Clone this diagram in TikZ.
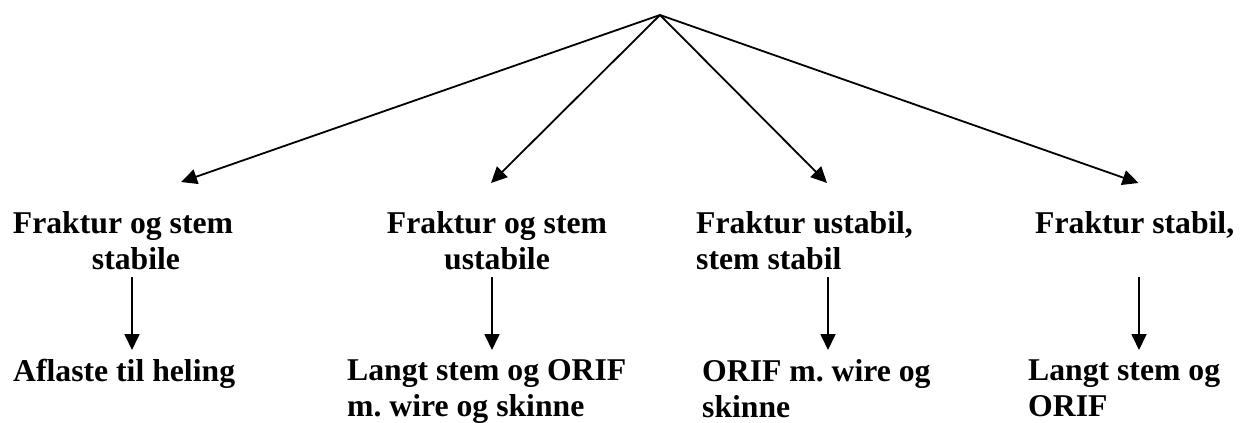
\documentclass[tikz,border=0pt]{standalone}
\usepackage{fontspec}
\setmainfont{Liberation Serif}
\usetikzlibrary{arrows.meta}
\frenchspacing
\begin{document}
\begin{tikzpicture}[x=1pt,y=-1pt,
  arr/.style={line width=1.8pt,-{Triangle[length=16pt,width=15pt]}},
  lbl/.style={inner sep=0pt,font=\fontsize{31.7}{36}\selectfont\bfseries}]
\useasboundingbox (0,0) rectangle (1240,423);
% apex and arrow tips
\coordinate (top) at (660,15);
\coordinate (t1) at (181,182);
\coordinate (t2) at (491,183);
\coordinate (t3) at (827,183);
\coordinate (t4) at (1138.5,183);
% upper labels
\node[lbl,align=center,anchor=north] (n1) at (123,211.6) {Fraktur og stem\\\hspace*{26pt}stabile};
\node[lbl,align=center,anchor=north] (n2) at (497,211.6) {Fraktur og stem\\ustabile};
\node[lbl,align=left,anchor=north west] (n3) at (696,211.6) {Fraktur ustabil,\\stem stabil};
\node[lbl,anchor=base west] (n4) at (1035,233) {Fraktur stabil,};
% lower labels
\node[lbl,anchor=base west] (b1) at (13,381) {Aflaste til heling};
\node[lbl,align=left,anchor=north west] (b2) at (347,359.6) {Langt stem og ORIF\\m. wire og skinne};
\node[lbl,align=left,anchor=north west] (b3) at (702,359.6) {ORIF m. wire og\\skinne};
\node[lbl,align=left,anchor=north west] (b4) at (1028,359.6) {Langt stem og\\ORIF};
% down arrow ends
\coordinate (s1) at (132,277);  \coordinate (e1) at (132,350);
\coordinate (s2) at (492,277);  \coordinate (e2) at (492,350);
\coordinate (s3) at (828,277);  \coordinate (e3) at (828,350);
\coordinate (s4) at (1139,277); \coordinate (e4) at (1139,350);
% connectors
\draw[arr] (top) -- (t1);
\draw[arr] (top) -- (t2);
\draw[arr] (top) -- (t3);
\draw[arr] (top) -- (t4);
\draw[arr] (s1) -- (e1);
\draw[arr] (s2) -- (e2);
\draw[arr] (s3) -- (e3);
\draw[arr] (s4) -- (e4);
\end{tikzpicture}
\end{document}
